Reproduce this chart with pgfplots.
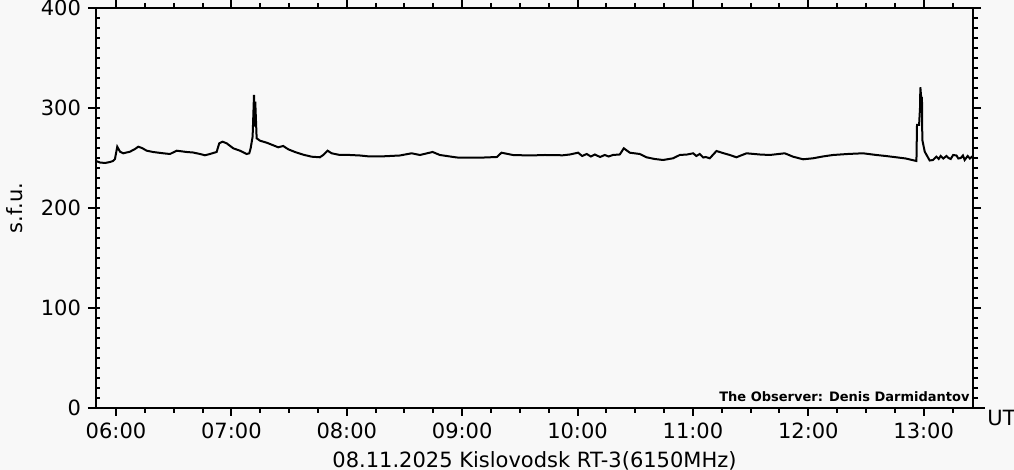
\documentclass[border=0pt]{standalone}
\usepackage{fontspec}
\setmainfont{DejaVu Sans}
\usepackage{pgfplots}
\pgfplotsset{compat=1.18}
\definecolor{bg}{RGB}{248,248,248}
\begin{document}
\begin{tikzpicture}
\path[use as bounding box, fill=bg] (-48pt,-31pt) rectangle (459pt,204pt);
\pgfplotsset{
  geom/.style={at={(0,0)}, anchor=south west, scale only axis, width=438.5pt, height=200pt,
    xmin=5.8267, xmax=13.4272, ymin=0, ymax=400,
    /pgf/number format/assume math mode=true,
    every tick label/.append style={font=\fontsize{10.5}{12}\selectfont},
    tick style={black, line width=1pt}},
}
% left inward ticks
\begin{axis}[geom, axis line style={draw=none}, xtick=\empty,
  ytick={0,100,...,400}, minor ytick={0,10,...,400}, ytick pos=left,
  tick align=inside, major tick length=2pt, minor tick length=2pt, yticklabels={}]
\end{axis}
% left outward major ticks
\begin{axis}[geom, axis line style={draw=none}, xtick=\empty,
  ytick={0,100,...,400}, ytick pos=left,
  tick align=outside, major tick length=4pt, yticklabels={}]
\end{axis}
% main axis
\begin{axis}[geom, clip=false,
  axis line style={line width=1pt},
  tick align=outside, major tick length=4pt, minor tick length=2.5pt,
  xtick={6,7,8,9,10,11,12,13},
  xticklabels={06:00,07:00,08:00,09:00,10:00,11:00,12:00,13:00},
  minor xtick={6,6.25,...,13.25},
  ytick={0,100,...,400}, minor ytick={0,10,...,400},
  xtick pos=both, xticklabel pos=left,
  ytick pos=right, yticklabel pos=left,
  xlabel={08.11.2025 Kislovodsk RT-3(6150MHz)},
  xlabel style={at={([yshift=-21.5pt]axis description cs:0.5,0)}, anchor=north, inner sep=0pt, font=\fontsize{10.5}{12}\selectfont},
  ylabel={s.f.u.},
  ylabel style={at={([xshift=-40.5pt]axis description cs:0,0.5)}, anchor=center, inner sep=0pt, font=\fontsize{10.5}{12}\selectfont},
]
\addplot[black, line width=1pt] coordinates {
(5.827,247) (5.861,245.5) (5.905,245) (5.948,246) (5.974,247) (5.991,249)
(6.011,261.3) (6.035,256.3) (6.063,254.7) (6.121,256.3) (6.165,259) (6.193,261.3)
(6.225,260) (6.266,257.3) (6.321,256) (6.410,254.7) (6.468,254) (6.526,257.3)
(6.612,256) (6.667,255.5) (6.728,254) (6.771,252.7) (6.814,254) (6.872,256)
(6.895,264.7) (6.924,266.3) (6.959,264.7) (7.016,259.7) (7.074,257.3) (7.132,254)
(7.155,254.7) (7.167,259.7) (7.184,271.3) (7.196,313) (7.202,281.3) (7.207,306.3)
(7.219,269.7) (7.248,267.3) (7.306,265.3) (7.363,262.7) (7.406,260.7) (7.449,262)
(7.493,258.7) (7.551,256) (7.623,253.3) (7.695,251.3) (7.767,250.7) (7.796,253)
(7.834,257.3) (7.869,254.7) (7.941,253) (8.027,253) (8.114,252.5) (8.200,251.5)
(8.287,251.5) (8.374,252) (8.460,252.5) (8.562,254.7) (8.634,253) (8.744,256)
(8.807,253) (8.954,250.5) (9.067,250.3) (9.197,250.5) (9.301,251) (9.341,255.3)
(9.439,253) (9.587,252.5) (9.717,253) (9.872,252.7) (9.933,253.5) (10.005,255.3)
(10.040,252) (10.080,254) (10.115,251.5) (10.150,253.5) (10.195,251) (10.236,253)
(10.270,251.5) (10.306,253) (10.366,253.5) (10.401,259.7) (10.453,255.3) (10.539,254)
(10.597,250.7) (10.669,249) (10.741,248) (10.828,249.7) (10.886,253) (10.950,253.5)
(11.002,254.7) (11.030,252) (11.059,254) (11.090,250.5) (11.111,251) (11.146,249.7)
(11.204,257) (11.259,255) (11.319,253) (11.377,250.7) (11.464,254.7) (11.579,253.5)
(11.666,253) (11.796,254.7) (11.868,251.3) (11.955,248.7) (12.041,249.7) (12.125,251.5)
(12.214,253) (12.341,254) (12.474,254.7) (12.590,253) (12.671,252) (12.763,250.7)
(12.844,249.5) (12.937,247) (12.942,283) (12.960,283) (12.968,300) (12.971,320.7)
(12.980,308) (12.985,308.7) (12.988,268) (12.994,264.7) (13.009,256.3) (13.052,247.5)
(13.081,248) (13.110,251.3) (13.130,249) (13.147,252) (13.170,249.5) (13.197,252)
(13.215,250) (13.234,249) (13.255,253) (13.284,252.5) (13.300,249.5) (13.321,250)
(13.340,252.5) (13.355,248) (13.381,252) (13.400,249.5) (13.413,250.7) (13.425,252)
};
\draw[line width=1pt] ([xshift=-4pt]rel axis cs:0,0) -- ([xshift=6pt]rel axis cs:1,0);
\node[anchor=west, inner sep=0pt, font=\fontsize{10.5}{12}\selectfont] at ([xshift=7pt, yshift=-5.25pt]rel axis cs:1,0) {UT};
\node[anchor=base east, inner sep=0pt, font=\fontsize{6.5}{7}\selectfont\bfseries] at ([xshift=-1.5pt, yshift=3pt]rel axis cs:1,0) {The Observer: Denis Darmidantov};
\end{axis}
\end{tikzpicture}
\end{document}
